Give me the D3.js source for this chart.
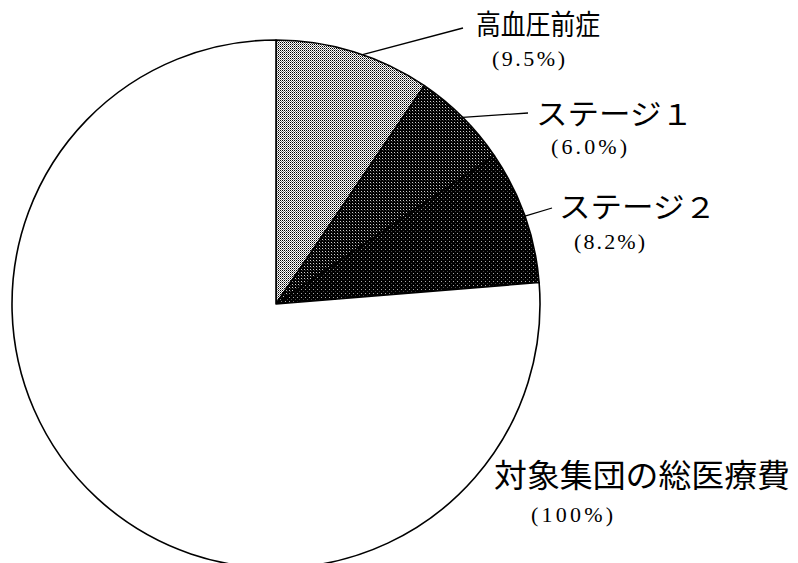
<!DOCTYPE html>
<html>
<head>
<meta charset="utf-8">
<script src="https://cdn.jsdelivr.net/npm/d3@7"></script>
<style>
  html, body { margin: 0; padding: 0; background: #fff; }
  svg { display: block; }
</style>
</head>
<body>
<svg id="chart" width="798" height="563"></svg>
<script>
// ---- data ----
const categories = ["高血圧前症", "ステージ１", "ステージ２"];
const shares = [9.5, 6.0, 8.2];              // % of total medical cost
const shareLabels = ["(9.5%)", "(6.0%)", "(8.2%)"];
const totalLabel = "対象集団の総医療費";
const totalShare = 100;
const totalShareLabel = "(100%)";

// ---- layout (not data) ----
const W = 798, H = 563;
const cx = 276, cy = 304, R = 264;
const nameStyle = [
  { x: 476, y: 35, size: 28, len: 124 },
  { x: 536, y: 125, size: 29, len: 157 },
  { x: 559, y: 218, size: 29, len: 157 }
];
const pctStyle = [
  { x: 492, y: 66, len: 73 },
  { x: 551, y: 154, len: 76 },
  { x: 574, y: 249, len: 71 }
];
const leaderEnd = [[463, 28], [528, 113], [552, 208]];
const leaderAngleFrac = [0.56, 0.5, 0.5];
const totalStyle = { x: 494, y: 487, size: 32, len: 296 };
const totalPctStyle = { x: 531, y: 522, len: 82 };
const pctSize = 22;

const svg = d3.select("#chart");
svg.append("rect").attr("width", W).attr("height", H).attr("fill", "#fff");

// ---- patterns ----
const defs = svg.append("defs");
function makePattern(id, size, bg, dots) {
  const p = defs.append("pattern").attr("id", id)
    .attr("patternUnits", "userSpaceOnUse")
    .attr("width", size).attr("height", size);
  p.append("rect").attr("width", size).attr("height", size).attr("fill", bg)
    .attr("shape-rendering", "crispEdges");
  dots.forEach(([x, y, c]) => p.append("rect").attr("x", x).attr("y", y)
    .attr("width", 1).attr("height", 1).attr("fill", c)
    .attr("shape-rendering", "crispEdges"));
}
makePattern("pLight", 2, "#fff", [[0, 0, "#000"], [1, 1, "#777"]]);
makePattern("pDark1", 3, "#000", [[1, 1, "#ccc"], [2, 2, "#333"]]);
makePattern("pDark2", 4, "#000", [[1, 1, "#aaa"], [3, 3, "#444"]]);
const fills = ["url(#pLight)", "url(#pDark1)", "url(#pDark2)", "#fff"];

// ---- pie ----
const rest = totalShare - d3.sum(shares);
const values = shares.concat([rest]);
const pie = d3.pie().sort(null).value(d => d).startAngle(0).endAngle(2 * Math.PI);
const arcs = pie(values);
const arc = d3.arc().innerRadius(0).outerRadius(R);

const g = svg.append("g").attr("transform", `translate(${cx},${cy})`);
g.selectAll("path.slice").data(arcs).join("path")
  .attr("class", "slice")
  .attr("d", arc)
  .attr("fill", (d, i) => fills[i])
  .attr("stroke", "#000")
  .attr("stroke-width", 1.6)
  .attr("stroke-linejoin", "round");

// ---- leaders & labels ----
arcs.slice(0, shares.length).forEach((d, i) => {
  const a = d.startAngle + (d.endAngle - d.startAngle) * leaderAngleFrac[i];
  const x0 = cx + R * Math.sin(a), y0 = cy - R * Math.cos(a);
  svg.append("line")
    .attr("x1", x0).attr("y1", y0)
    .attr("x2", leaderEnd[i][0]).attr("y2", leaderEnd[i][1])
    .attr("stroke", "#000").attr("stroke-width", 1.3);
  svg.append("text")
    .attr("x", nameStyle[i].x).attr("y", nameStyle[i].y)
    .attr("font-family", "'Noto Sans CJK JP', sans-serif")
    .attr("font-size", nameStyle[i].size)
    .attr("textLength", nameStyle[i].len)
    .attr("lengthAdjust", "spacingAndGlyphs")
    .attr("fill", "#000")
    .text(categories[i]);
  svg.append("text")
    .attr("x", pctStyle[i].x).attr("y", pctStyle[i].y)
    .attr("font-family", "'Liberation Serif', serif")
    .attr("font-size", pctSize)
    .attr("textLength", pctStyle[i].len)
    .attr("lengthAdjust", "spacing")
    .attr("fill", "#000")
    .text(shareLabels[i]);
});

svg.append("text")
  .attr("x", totalStyle.x).attr("y", totalStyle.y)
  .attr("font-family", "'Noto Sans CJK JP', sans-serif")
  .attr("font-size", totalStyle.size)
  .attr("textLength", totalStyle.len)
  .attr("lengthAdjust", "spacingAndGlyphs")
  .attr("fill", "#000")
  .text(totalLabel);
svg.append("text")
  .attr("x", totalPctStyle.x).attr("y", totalPctStyle.y)
  .attr("font-family", "'Liberation Serif', serif")
  .attr("font-size", pctSize)
  .attr("textLength", totalPctStyle.len)
  .attr("lengthAdjust", "spacing")
  .attr("fill", "#000")
  .text(totalShareLabel);
</script>
</body>
</html>
